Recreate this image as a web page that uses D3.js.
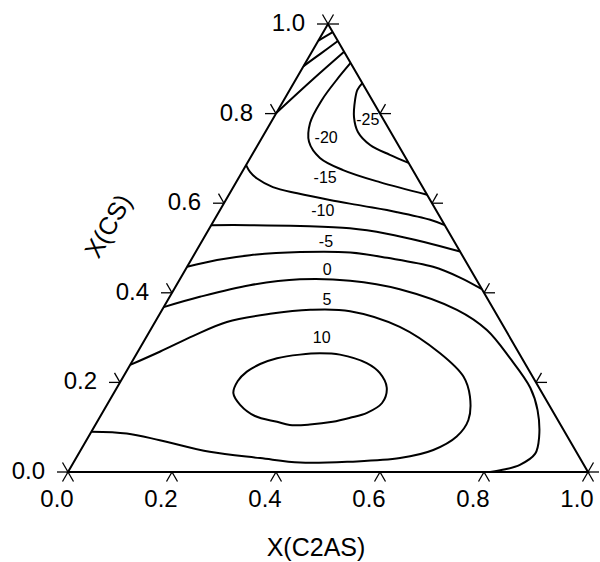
<!DOCTYPE html>
<html>
<head>
<meta charset="utf-8">
<script src="https://cdn.jsdelivr.net/npm/d3@7"></script>
<style>
  body { margin: 0; background: #fff; }
  text { font-family: "Liberation Sans", Arial, sans-serif; fill: #000; }
</style>
</head>
<body>
<svg id="chart" width="600" height="562"></svg>
<script>
// ternary points are [X(C2AS), X(CS)]
var tickValues = [0, 0.2, 0.4, 0.6, 0.8, 1.0];
var tickLabels = ["0.0", "0.2", "0.4", "0.6", "0.8", "1.0"];

var apexLine1 = [[0.018, 0.982], [0.000, 0.963]];
var apexLine2 = [[0.038, 0.962], [0.019, 0.934], [0.000, 0.906]];
var apexLine3 = [[0.062, 0.938], [0.032, 0.875], [0.000, 0.802]];

var contourM25 = [[0.132, 0.868], [0.130, 0.853], [0.137, 0.830], [0.154, 0.792], [0.178, 0.759],
  [0.216, 0.730], [0.265, 0.708], [0.310, 0.690]];
var contourM20 = [[0.087, 0.913], [0.079, 0.875], [0.073, 0.830], [0.076, 0.779], [0.095, 0.737],
  [0.134, 0.701], [0.192, 0.674], [0.276, 0.647], [0.381, 0.619]];
var contourM15 = [[0.000, 0.685], [0.015, 0.670], [0.036, 0.655], [0.076, 0.636], [0.130, 0.622],
  [0.200, 0.607], [0.270, 0.594], [0.343, 0.580], [0.415, 0.563], [0.449, 0.551]];
var contourM10 = [[0.000, 0.551], [0.074, 0.551], [0.172, 0.549], [0.270, 0.544], [0.347, 0.532],
  [0.430, 0.513], [0.508, 0.492]];
var contourM5 = [[0.000, 0.458], [0.050, 0.473], [0.108, 0.484], [0.201, 0.491], [0.298, 0.490],
  [0.375, 0.478], [0.473, 0.458], [0.537, 0.434], [0.592, 0.408]];
var contour0 = [[0.000, 0.368], [0.058, 0.391], [0.141, 0.417], [0.231, 0.430], [0.329, 0.427],
  [0.434, 0.408], [0.567, 0.362], [0.647, 0.317], [0.723, 0.254], [0.795, 0.188], [0.834, 0.138],
  [0.867, 0.078], [0.878, 0.041], [0.861, 0.016], [0.838, 0.006], [0.812, 0.000]];
var contour5 = [[0.000, 0.239], [0.043, 0.269], [0.089, 0.304], [0.138, 0.335], [0.212, 0.353],
  [0.285, 0.362], [0.363, 0.359], [0.476, 0.324], [0.583, 0.265], [0.654, 0.213], [0.689, 0.168],
  [0.712, 0.116], [0.708, 0.079], [0.678, 0.049], [0.623, 0.031], [0.531, 0.023], [0.436, 0.021],
  [0.354, 0.031], [0.250, 0.045], [0.141, 0.071], [0.070, 0.086], [0.000, 0.090]];
var contour10 = [[0.230, 0.176], [0.225, 0.203], [0.232, 0.224], [0.249, 0.241], [0.275, 0.254],
  [0.315, 0.262], [0.352, 0.265], [0.392, 0.262], [0.453, 0.243], [0.489, 0.221], [0.519, 0.188],
  [0.527, 0.154], [0.509, 0.132], [0.482, 0.121], [0.453, 0.112], [0.412, 0.106], [0.374, 0.105],
  [0.346, 0.112], [0.297, 0.125], [0.256, 0.150]];

var levelNames = ["-25", "-20", "-15", "-10", "-5", "0", "5", "10"];

var svg = d3.select("#chart");

var x = d3.scaleLinear().domain([0, 1]).range([68, 588]);
var y = d3.scaleLinear().domain([0, 1]).range([472, 24]);

// ternary -> screen
function px(p) { return [x(p[0] + p[1] / 2), y(p[1])]; }

var openLine = d3.line()
  .x(function (d) { return px(d)[0]; })
  .y(function (d) { return px(d)[1]; })
  .curve(d3.curveCatmullRom.alpha(0.5));
var closedLine = d3.line()
  .x(function (d) { return px(d)[0]; })
  .y(function (d) { return px(d)[1]; })
  .curve(d3.curveCatmullRomClosed.alpha(0.5));

// contours
var openCurves = [apexLine1, apexLine2, apexLine3, contourM25, contourM20, contourM15,
  contourM10, contourM5, contour0, contour5];
svg.append("g").selectAll("path")
  .data(openCurves)
  .enter().append("path")
  .attr("d", openLine)
  .attr("fill", "none")
  .attr("stroke", "#000")
  .attr("stroke-width", 2);

svg.append("path")
  .attr("d", closedLine(contour10))
  .attr("fill", "none")
  .attr("stroke", "#000")
  .attr("stroke-width", 2);

// contour labels (layout only)
var labelAt = [[0.183, 0.787], [0.123, 0.747], [0.166, 0.657], [0.198, 0.584],
  [0.238, 0.516], [0.272, 0.453], [0.305, 0.386], [0.338, 0.300]];
svg.append("g").selectAll("text")
  .data(levelNames)
  .enter().append("text")
  .attr("x", function (d, i) { return px(labelAt[i])[0]; })
  .attr("y", function (d, i) { return px(labelAt[i])[1]; })
  .attr("dy", ".36em")
  .attr("text-anchor", "middle")
  .attr("font-size", 16)
  .text(function (d) { return d; });

// triangle frame
var corners = [[0, 0], [1, 0], [0, 1]];
svg.append("path")
  .attr("d", "M" + corners.map(px).join("L") + "Z")
  .attr("fill", "none")
  .attr("stroke", "#000")
  .attr("stroke-width", 2)
  .attr("stroke-linejoin", "miter");

// ticks: two short arms along the grid directions
var len = 11, sx = 0.5, sy = Math.sqrt(3) / 2;
var ticks = svg.append("g").attr("stroke", "#000").attr("stroke-width", 1.3);
tickValues.forEach(function (v) {
  var b = px([v, 0]), l = px([0, v]), r = px([1 - v, v]);
  [[b, -sx, sy], [b, sx, sy], [l, -1, 0], [l, -sx, -sy], [r, 1, 0], [r, sx, -sy]].forEach(function (t) {
    ticks.append("line")
      .attr("x1", t[0][0]).attr("y1", t[0][1])
      .attr("x2", t[0][0] + len * t[1]).attr("y2", t[0][1] + len * t[2]);
  });
});

// tick labels
svg.append("g").selectAll("text")
  .data(tickValues)
  .enter().append("text")
  .attr("x", function (d) { return px([d, 0])[0] - 11; })
  .attr("y", function (d) { return px([d, 0])[1] + 35; })
  .attr("text-anchor", "middle")
  .attr("font-size", 24)
  .text(function (d, i) { return tickLabels[i]; });

svg.append("g").selectAll("text")
  .data(tickValues)
  .enter().append("text")
  .attr("x", function (d) { return px([0, d])[0] - 23; })
  .attr("y", function (d) { return px([0, d])[1] + 7; })
  .attr("text-anchor", "end")
  .attr("font-size", 24)
  .text(function (d, i) { return tickLabels[i]; });

// axis titles
svg.append("text")
  .attr("x", 316)
  .attr("y", 556)
  .attr("text-anchor", "middle")
  .attr("font-size", 25)
  .text("X(C2AS)");

svg.append("text")
  .attr("transform", "translate(108,226) rotate(-60)")
  .attr("dy", ".35em")
  .attr("text-anchor", "middle")
  .attr("font-size", 25)
  .text("X(CS)");
</script>
</body>
</html>
